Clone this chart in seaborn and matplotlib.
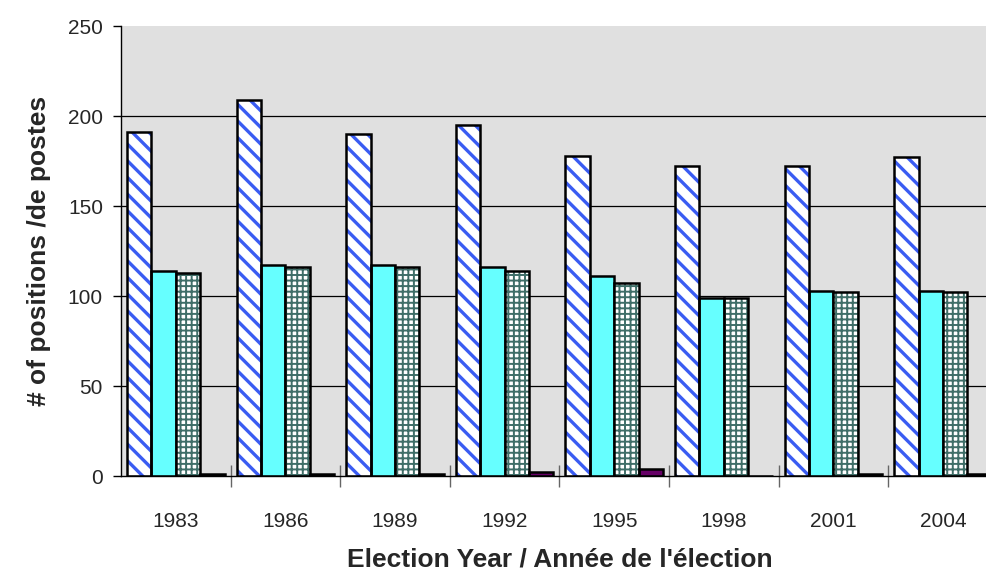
import numpy as np
import pandas as pd
import matplotlib
matplotlib.use("Agg")
import matplotlib.pyplot as plt
import seaborn as sns
from matplotlib.patches import Rectangle

# ---- data ----
years = ["1983", "1986", "1989", "1992", "1995", "1998", "2001", "2004"]
series_a = [191, 209, 190, 195, 178, 172, 172, 177]   # striped bars
series_b = [114, 117, 117, 116, 111, 99, 103, 103]    # cyan bars
series_c = [113, 116, 116, 114, 107, 99, 102, 102]    # checkered bars
series_d = [1, 1, 1, 2, 4, 0, 1, 1]                   # purple bars
series_names = ["A", "B", "C", "D"]

df = pd.DataFrame({
    "year": years * 4,
    "count": series_a + series_b + series_c + series_d,
    "series": np.repeat(series_names, len(years)),
})

sns.set_theme(style="white")
plt.rcParams["font.family"] = ["Liberation Sans", "DejaVu Sans"]
plt.rcParams["hatch.linewidth"] = 2.2

fig = plt.figure(figsize=(9.87, 5.74), dpi=100)
ax = fig.add_axes([0.1226, 0.1707, 1.011 - 0.1226, 0.9547 - 0.1707])
ax.set_facecolor("#E0E0E0")

palette = ["white", "#66FFFF", "white", "#660066"]
sns.barplot(data=df, x="year", y="count", hue="series", palette=palette,
            width=0.89, legend=False, edgecolor="black", linewidth=1.8,
            saturation=1, ax=ax, zorder=3)

# hatch patterns: stripes on series A, checks on series C
hatches = {0: ("\\\\", "#3A5CF2", 2.4), 2: ("+++", "#3F6E68", 1.4)}
n = len(years)
for i, p in enumerate(list(ax.patches)):
    k = i // n
    if k in hatches:
        h, c, lw = hatches[k]
        p.set_hatch(h)
        p.set_edgecolor(c)
        p.set_linewidth(0)
        if hasattr(p, "set_hatch_linewidth"):
            p.set_hatch_linewidth(lw)
        elif hasattr(p, "_hatch_linewidth"):
            p._hatch_linewidth = lw
        ax.add_patch(Rectangle(p.get_xy(), p.get_width(), p.get_height(),
                               fill=False, edgecolor="black", linewidth=1.8,
                               zorder=4))

ax.set_ylim(0, 250)
ax.set_xlim(-0.5, len(years) - 0.5)
ax.set_yticks([0, 50, 100, 150, 200, 250])
ax.yaxis.grid(True, color="black", linewidth=0.9, zorder=0)
ax.set_axisbelow(True)
ax.get_ygridlines()[-1].set_visible(False)
ax.get_ygridlines()[0].set_visible(False)

# group separators as major ticks, year labels as minor ticks
ax.set_xticks(np.arange(len(years)) + 0.5)
ax.set_xticklabels([])
ax.set_xticks(np.arange(len(years)), minor=True)
ax.set_xticklabels(years, minor=True)
ax.tick_params(axis="x", which="major", direction="inout", length=16,
               color="#666666", width=1, bottom=True)
ax.tick_params(axis="x", which="minor", length=0, pad=26, labelsize=15)
ax.tick_params(axis="y", direction="out", length=6, color="black",
               width=1, left=True, labelsize=15, pad=7)

for s in ["top", "right"]:
    ax.spines[s].set_visible(False)
for s in ["left", "bottom"]:
    ax.spines[s].set_color("black")
    ax.spines[s].set_linewidth(1)
    ax.spines[s].set_zorder(5)

ax.set_xlabel("Election Year / Année de l'élection", fontsize=19,
              fontweight="bold", labelpad=12)
ax.set_ylabel("# of positions /de postes", fontsize=19, fontweight="bold",
              labelpad=12)

fig.savefig("out.png", dpi=100)
